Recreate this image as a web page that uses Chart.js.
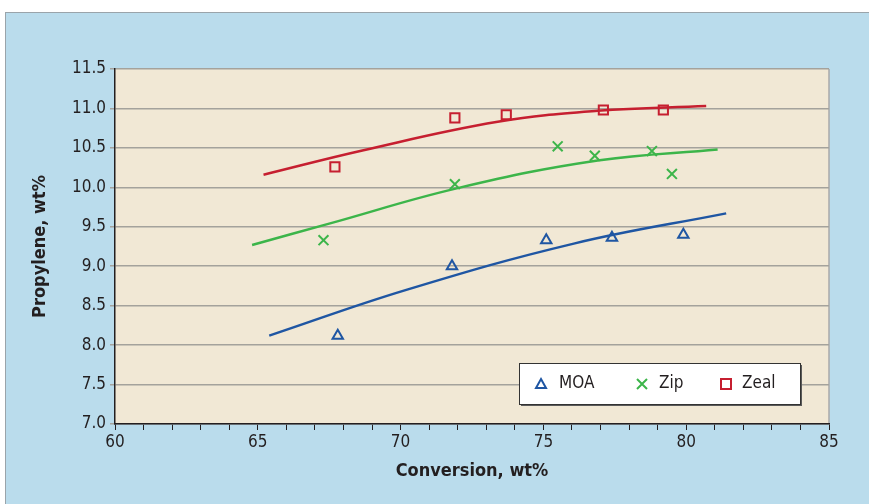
<!DOCTYPE html>
<html>
<head>
<meta charset="utf-8">
<script src="https://cdn.jsdelivr.net/npm/chart.js@4.4.1/dist/chart.umd.min.js"></script>
<style>
  html, body { margin: 0; padding: 0; background: #fff; width: 869px; height: 504px; overflow: hidden; }
  #panel { position: absolute; left: 5px; top: 12px; width: 880px; height: 510px; background: #badcec; border: 1px solid #9aa4aa; }
  #wrap { position: absolute; left: 0; top: 0; width: 869px; height: 504px; }
</style>
</head>
<body>
<div id="panel"></div>
<div id="wrap"><canvas id="grafico"></canvas></div>
<script>
// Dados
const moaConv = [67.8, 71.8, 75.1, 77.4, 79.9];
const moaProp = [8.12, 9.00, 9.33, 9.36, 9.40];
const zipConv = [67.3, 71.9, 75.5, 76.8, 78.8, 79.5];
const zipProp = [9.33, 10.04, 10.52, 10.40, 10.46, 10.17];
const zealConv = [67.7, 71.9, 73.7, 77.1, 79.2];
const zealProp = [10.26, 10.88, 10.92, 10.98, 10.98];

// Linhas de tendência
const moaTrendX = [65.4, 70.2, 76.1, 81.4];
const moaTrendY = [8.12, 8.70, 9.29, 9.67];
const zipTrendX = [64.8, 67.5, 72.0, 76.9, 81.1];
const zipTrendY = [9.27, 9.54, 9.99, 10.34, 10.48];
const zealTrendX = [65.2, 68.7, 73.4, 76.9, 80.7];
const zealTrendY = [10.16, 10.47, 10.83, 10.97, 11.03];

const xTicks = [60, 65, 70, 75, 80, 85];

const AZUL = "#1f56a3";
const VERDE = "#3cb54a";
const VERMELHO = "#c61f30";
const FONTE = "'Liberation Sans Narrow', 'DejaVu Sans Condensed', 'Roboto Condensed', sans-serif";

const pares = (xs, ys) => xs.map((x, i) => ({ x: x, y: ys[i] }));

// Fundo da área do gráfico e borda direita
const fundoPlugin = {
  id: "fundo",
  beforeDraw(chart) {
    const { ctx, chartArea: a } = chart;
    ctx.save();
    ctx.fillStyle = "#f1e8d5";
    ctx.fillRect(a.left, a.top, a.right - a.left, a.bottom - a.top);
    ctx.strokeStyle = "#a8a8a8";
    ctx.lineWidth = 1.5;
    ctx.beginPath();
    ctx.moveTo(a.right, a.top);
    ctx.lineTo(a.right, a.bottom);
    ctx.stroke();
    ctx.restore();
  }
};

// Legenda desenhada dentro do gráfico
const legendaPlugin = {
  id: "legendaCaixa",
  afterDraw(chart) {
    const { ctx } = chart;
    const x0 = 519, y0 = 363, w = 281, h = 41;
    ctx.save();
    ctx.fillStyle = "#5a5a5a";
    ctx.fillRect(x0 + 2, y0 + 2, w, h);
    ctx.fillStyle = "#ffffff";
    ctx.fillRect(x0, y0, w, h);
    ctx.strokeStyle = "#333";
    ctx.lineWidth = 1;
    ctx.strokeRect(x0 + 0.5, y0 + 0.5, w, h);

    const cy = y0 + 21;
    ctx.lineWidth = 2;
    // triângulo
    ctx.strokeStyle = AZUL;
    ctx.beginPath();
    ctx.moveTo(541, cy - 5);
    ctx.lineTo(546, cy + 4);
    ctx.lineTo(536, cy + 4);
    ctx.closePath();
    ctx.stroke();
    // X
    ctx.strokeStyle = VERDE;
    ctx.beginPath();
    ctx.moveTo(637, cy - 5); ctx.lineTo(647, cy + 5);
    ctx.moveTo(647, cy - 5); ctx.lineTo(637, cy + 5);
    ctx.stroke();
    // quadrado
    ctx.strokeStyle = VERMELHO;
    ctx.strokeRect(721, cy - 5, 10, 10);

    ctx.fillStyle = "#231f20";
    ctx.font = "17px " + FONTE;
    ctx.textBaseline = "middle";
    ctx.fillText("MOA", 559, cy);
    ctx.fillText("Zip", 659, cy);
    ctx.fillText("Zeal", 742, cy);
    ctx.restore();
  }
};

function tendencia(label, dados, cor) {
  return {
    label: label,
    type: "line",
    data: dados,
    borderColor: cor,
    borderWidth: 2.5,
    pointRadius: 0,
    fill: false,
    tension: 0.4,
    showLine: true
  };
}

new Chart(document.getElementById("grafico"), {
  type: "scatter",
  data: {
    datasets: [
      tendencia("MOA tendência", pares(moaTrendX, moaTrendY), AZUL),
      tendencia("Zip tendência", pares(zipTrendX, zipTrendY), VERDE),
      tendencia("Zeal tendência", pares(zealTrendX, zealTrendY), VERMELHO),
      {
        label: "MOA",
        data: pares(moaConv, moaProp),
        pointStyle: "triangle",
        pointRadius: 6,
        pointBorderWidth: 2,
        pointBorderColor: AZUL,
        pointBackgroundColor: "rgba(0,0,0,0)"
      },
      {
        label: "Zip",
        data: pares(zipConv, zipProp),
        pointStyle: "crossRot",
        pointRadius: 7,
        pointBorderWidth: 2,
        pointBorderColor: VERDE,
        pointBackgroundColor: "rgba(0,0,0,0)"
      },
      {
        label: "Zeal",
        data: pares(zealConv, zealProp),
        pointStyle: "rect",
        pointRadius: 6.5,
        pointBorderWidth: 2,
        pointBorderColor: VERMELHO,
        pointBackgroundColor: "rgba(0,0,0,0)"
      }
    ]
  },
  options: {
    responsive: true,
    maintainAspectRatio: false,
    animation: false,
    layout: { padding: { left: 30, top: 69, right: 40, bottom: 22 } },
    plugins: {
      legend: { display: false },
      tooltip: { enabled: false }
    },
    scales: {
      x: {
        type: "linear",
        min: 60,
        max: 85,
        afterFit(scale) { scale.height = 58; },
        border: { color: "#231f20", width: 1.5 },
        grid: { drawOnChartArea: false, tickLength: 6, color: "#231f20", lineWidth: 1 },
        ticks: {
          stepSize: 1,
          autoSkip: false,
          maxRotation: 0,
          padding: 2,
          color: "#231f20",
          font: { family: FONTE, size: 17 },
          callback: v => xTicks.includes(v) ? String(v) : ""
        },
        title: {
          display: true,
          text: "Conversion, wt%",
          color: "#231f20",
          font: { family: FONTE, size: 18, weight: "bold" },
          padding: { top: 4, bottom: 0 }
        }
      },
      y: {
        min: 7.0,
        max: 11.5,
        afterFit(scale) { scale.width = 85; },
        border: { color: "#231f20", width: 1.5 },
        grid: { color: "#a4a29c", lineWidth: 1.5, tickLength: 5, drawTicks: true },
        ticks: {
          stepSize: 0.5,
          padding: 4,
          color: "#231f20",
          font: { family: FONTE, size: 17 },
          callback: v => v.toFixed(1)
        },
        title: {
          display: true,
          text: "Propylene, wt%",
          color: "#231f20",
          font: { family: FONTE, size: 18, weight: "bold" },
          padding: { top: 0, bottom: 0 }
        }
      }
    }
  },
  plugins: [fundoPlugin, legendaPlugin]
});
</script>
</body>
</html>
